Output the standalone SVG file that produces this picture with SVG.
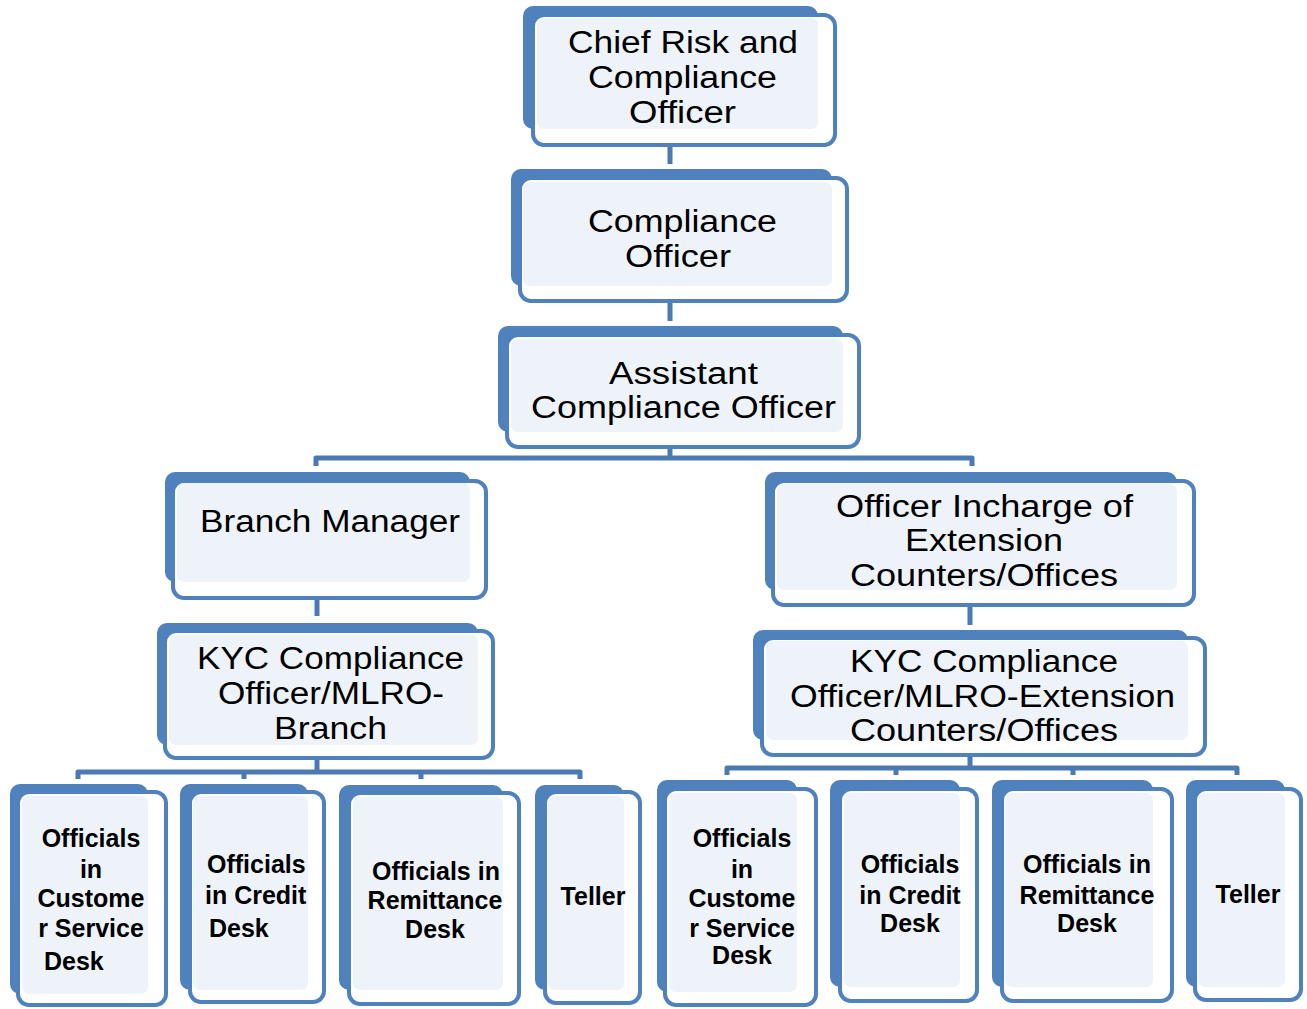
<svg xmlns="http://www.w3.org/2000/svg" width="1307" height="1009" viewBox="0 0 1307 1009">
  <style>
    .back { fill: #4f81bd; }
    .front { fill: #ffffff; stroke: #4f81bd; stroke-width: 4; }
    .inner { fill: #eef3fa; }
    .t { font-family: "Liberation Sans", Arial, sans-serif; font-size: 31px; fill: #000; }
    .s { font-family: "Liberation Sans", Arial, sans-serif; font-size: 25px; font-weight: bold; fill: #000; text-anchor: middle; }
    .sl { font-family: "Liberation Sans", Arial, sans-serif; font-size: 25px; font-weight: bold; fill: #000; }
    .link { fill: none; stroke: #4a79b3; stroke-width: 5; stroke-linejoin: round; }
  </style>
  <rect width="1307" height="1009" fill="#ffffff"/>

  <!-- connectors -->
  <g id="connectors">
    <path class="link" d="M670 145 V164"/>
    <path class="link" d="M670 302 V321"/>
    <path class="link" d="M670 447 V458 M316 466 V458 H972 V466"/>
    <path class="link" d="M317 598 V616"/>
    <path class="link" d="M970 606 V625"/>
    <path class="link" d="M317 758 V772 M78 779 V772 H580 V779 M244 772 V779 M421 772 V779"/>
    <path class="link" d="M970 756 V768 M727 775 V768 H1237 V775 M896 768 V775 M1073 768 V775"/>
  </g>

  <!-- level 1 -->
  <g id="chief-risk">
    <rect class="back" x="523" y="6" width="295" height="123" rx="10"/>
    <rect class="front" x="533" y="15" width="302" height="130" rx="11"/>
    <rect class="inner" x="537" y="18" width="281" height="111" rx="7"/>
    <text class="t" x="568" y="53" textLength="230" lengthAdjust="spacingAndGlyphs">Chief Risk and</text>
    <text class="t" x="588" y="88" textLength="189" lengthAdjust="spacingAndGlyphs">Compliance</text>
    <text class="t" x="629" y="123" textLength="107" lengthAdjust="spacingAndGlyphs">Officer</text>
  </g>

  <g id="compliance-officer">
    <rect class="back" x="511" y="169" width="321" height="117" rx="10"/>
    <rect class="front" x="520" y="178" width="327" height="123" rx="11"/>
    <rect class="inner" x="523" y="182" width="309" height="104" rx="7"/>
    <text class="t" x="588" y="232" textLength="189" lengthAdjust="spacingAndGlyphs">Compliance</text>
    <text class="t" x="625" y="267" textLength="106" lengthAdjust="spacingAndGlyphs">Officer</text>
  </g>

  <g id="assistant-compliance-officer">
    <rect class="back" x="498" y="326" width="345" height="106" rx="10"/>
    <rect class="front" x="507" y="335" width="352" height="112" rx="11"/>
    <rect class="inner" x="511" y="339" width="332" height="93" rx="7"/>
    <text class="t" x="609" y="384" textLength="149" lengthAdjust="spacingAndGlyphs">Assistant</text>
    <text class="t" x="531" y="418" textLength="305" lengthAdjust="spacingAndGlyphs">Compliance Officer</text>
  </g>

  <!-- branch side -->
  <g id="branch-manager">
    <rect class="back" x="165" y="472" width="305" height="110" rx="10"/>
    <rect class="front" x="173" y="481" width="313" height="117" rx="11"/>
    <rect class="inner" x="177" y="483" width="293" height="99" rx="7"/>
    <text class="t" x="200" y="532" textLength="260" lengthAdjust="spacingAndGlyphs">Branch Manager</text>
  </g>

  <g id="kyc-branch">
    <rect class="back" x="157" y="623" width="321" height="122" rx="10"/>
    <rect class="front" x="165" y="631" width="328" height="127" rx="11"/>
    <rect class="inner" x="169" y="635" width="309" height="110" rx="7"/>
    <text class="t" x="197" y="669" textLength="267" lengthAdjust="spacingAndGlyphs">KYC Compliance</text>
    <text class="t" x="218" y="704" textLength="226" lengthAdjust="spacingAndGlyphs">Officer/MLRO-</text>
    <text class="t" x="274" y="739" textLength="113" lengthAdjust="spacingAndGlyphs">Branch</text>
  </g>

  <!-- extension side -->
  <g id="officer-incharge">
    <rect class="back" x="765" y="472" width="412" height="118" rx="10"/>
    <rect class="front" x="773" y="481" width="421" height="124" rx="11"/>
    <rect class="inner" x="777" y="484" width="400" height="106" rx="7"/>
    <text class="t" x="836" y="517" textLength="297" lengthAdjust="spacingAndGlyphs">Officer Incharge of</text>
    <text class="t" x="905" y="551" textLength="158" lengthAdjust="spacingAndGlyphs">Extension</text>
    <text class="t" x="850" y="586" textLength="268" lengthAdjust="spacingAndGlyphs">Counters/Offices</text>
  </g>

  <g id="kyc-extension">
    <rect class="back" x="753" y="630" width="435" height="110" rx="10"/>
    <rect class="front" x="762" y="638" width="443" height="117" rx="11"/>
    <rect class="inner" x="766" y="641" width="422" height="99" rx="7"/>
    <text class="t" x="850" y="672" textLength="268" lengthAdjust="spacingAndGlyphs">KYC Compliance</text>
    <text class="t" x="790" y="707" textLength="385" lengthAdjust="spacingAndGlyphs">Officer/MLRO-Extension</text>
    <text class="t" x="850" y="741" textLength="268" lengthAdjust="spacingAndGlyphs">Counters/Offices</text>
  </g>

  <!-- branch desks -->
  <g id="branch-customer-service">
    <rect class="back" x="10" y="784" width="138" height="210" rx="10"/>
    <rect class="front" x="18" y="792" width="148" height="213" rx="11"/>
    <rect class="inner" x="22" y="796" width="126" height="198" rx="7"/>
    <text class="s" x="91" y="847">Officials</text>
    <text class="s" x="91" y="878">in</text>
    <text class="s" x="91" y="907">Custome</text>
    <text class="s" x="91" y="937">r Service</text>
    <text class="sl" x="44" y="970">Desk</text>
  </g>

  <g id="branch-credit">
    <rect class="back" x="180" y="784" width="128" height="206" rx="10"/>
    <rect class="front" x="190" y="792" width="134" height="210" rx="11"/>
    <rect class="inner" x="193" y="796" width="115" height="194" rx="7"/>
    <text class="sl" x="207" y="873">Officials</text>
    <text class="sl" x="205" y="904">in Credit</text>
    <text class="sl" x="209" y="937">Desk</text>
  </g>

  <g id="branch-remittance">
    <rect class="back" x="339" y="785" width="164" height="205" rx="10"/>
    <rect class="front" x="349" y="793" width="170" height="211" rx="11"/>
    <rect class="inner" x="353" y="797" width="150" height="193" rx="7"/>
    <text class="s" x="436" y="880">Officials in</text>
    <text class="s" x="435" y="909">Remittance</text>
    <text class="s" x="435" y="938">Desk</text>
  </g>

  <g id="branch-teller">
    <rect class="back" x="535" y="785" width="89" height="205" rx="10"/>
    <rect class="front" x="545" y="792" width="95" height="211" rx="11"/>
    <rect class="inner" x="548" y="796" width="76" height="194" rx="7"/>
    <text class="s" x="593" y="905">Teller</text>
  </g>

  <!-- extension desks -->
  <g id="ext-customer-service">
    <rect class="back" x="657" y="780" width="140" height="212" rx="10"/>
    <rect class="front" x="665" y="789" width="151" height="216" rx="11"/>
    <rect class="inner" x="669" y="793" width="128" height="199" rx="7"/>
    <text class="s" x="742" y="847">Officials</text>
    <text class="s" x="742" y="878">in</text>
    <text class="s" x="742" y="907">Custome</text>
    <text class="s" x="742" y="937">r Service</text>
    <text class="s" x="742" y="964">Desk</text>
  </g>

  <g id="ext-credit">
    <rect class="back" x="830" y="780" width="130" height="207" rx="10"/>
    <rect class="front" x="840" y="789" width="137" height="212" rx="11"/>
    <rect class="inner" x="844" y="793" width="116" height="194" rx="7"/>
    <text class="s" x="910" y="873">Officials</text>
    <text class="s" x="910" y="904">in Credit</text>
    <text class="s" x="910" y="932">Desk</text>
  </g>

  <g id="ext-remittance">
    <rect class="back" x="992" y="780" width="161" height="207" rx="10"/>
    <rect class="front" x="1002" y="789" width="170" height="212" rx="11"/>
    <rect class="inner" x="1005" y="793" width="148" height="194" rx="7"/>
    <text class="s" x="1087" y="873">Officials in</text>
    <text class="s" x="1087" y="904">Remittance</text>
    <text class="s" x="1087" y="932">Desk</text>
  </g>

  <g id="ext-teller">
    <rect class="back" x="1186" y="780" width="99" height="207" rx="10"/>
    <rect class="front" x="1195" y="789" width="106" height="211" rx="11"/>
    <rect class="inner" x="1198" y="793" width="87" height="194" rx="7"/>
    <text class="s" x="1248" y="903">Teller</text>
  </g>
</svg>
